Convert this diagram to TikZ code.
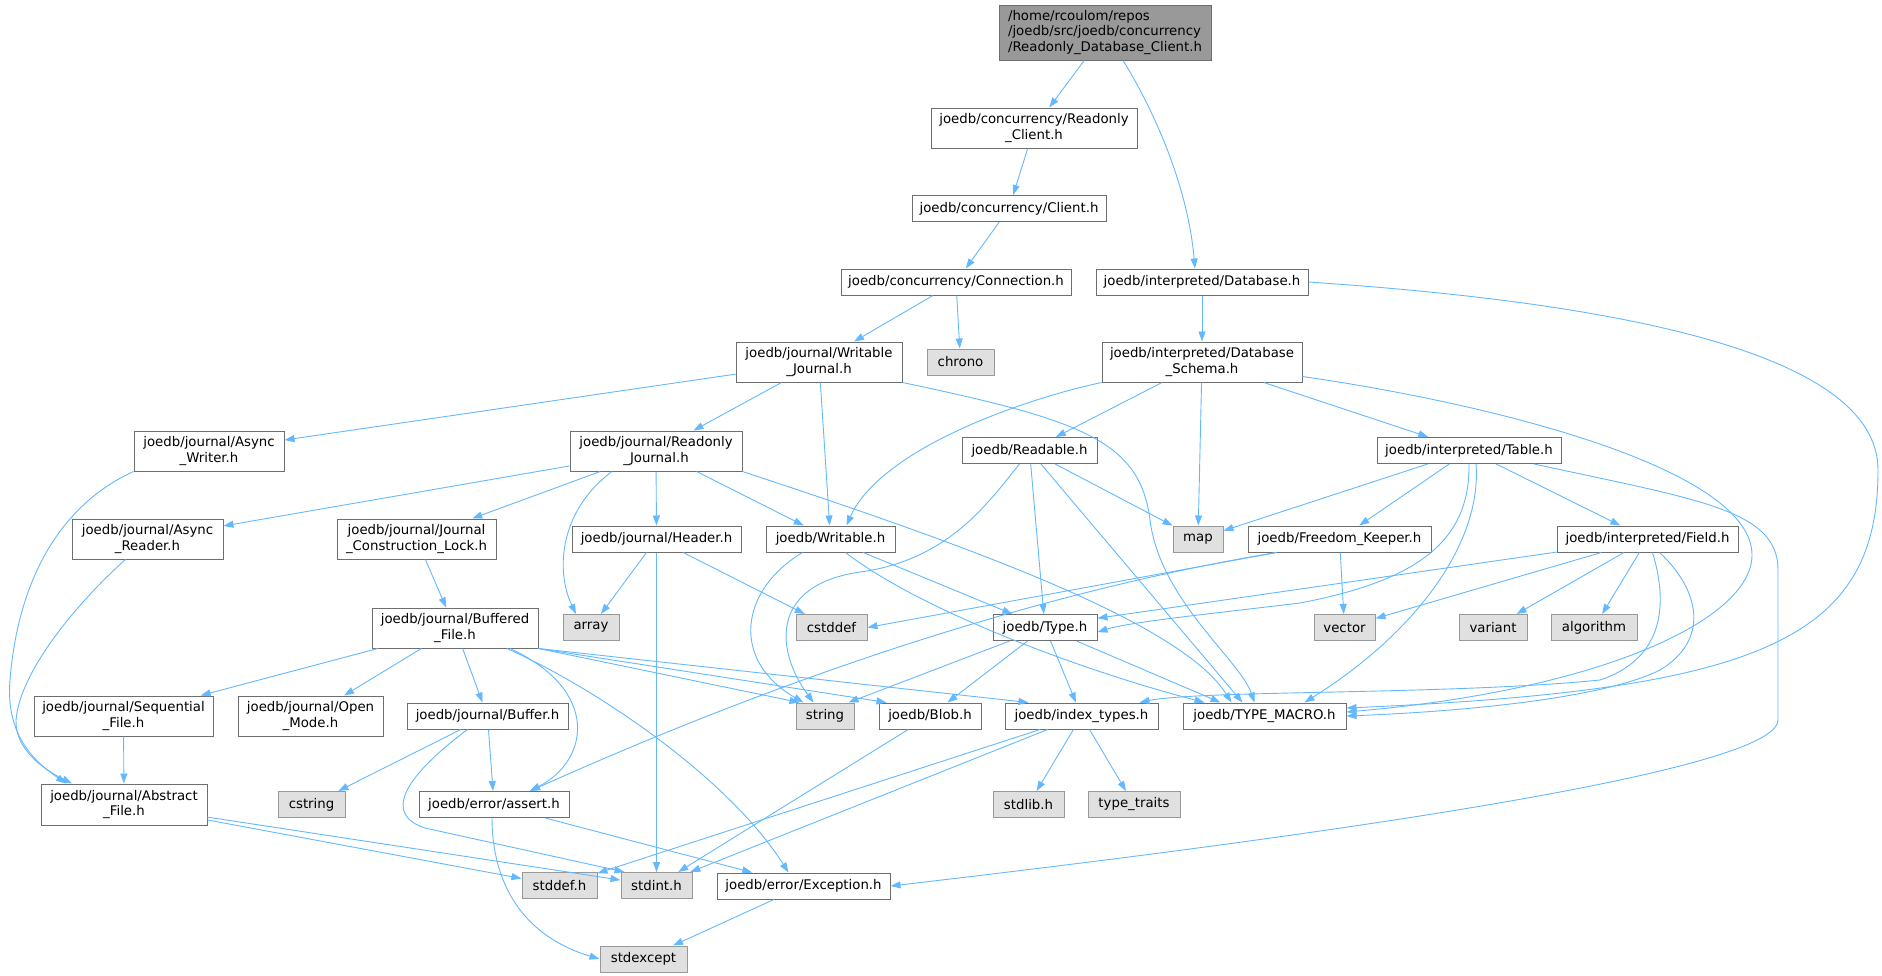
\documentclass[tikz,border=0pt]{standalone}
\usepackage{fontspec}
\setmainfont{DejaVu Sans}
\usetikzlibrary{arrows.meta}
\definecolor{incblue}{HTML}{63B8FF}
\definecolor{boxgrey}{HTML}{6E6E6E}
\definecolor{sysgrey}{HTML}{999999}
\definecolor{sysfill}{HTML}{E0E0E0}
\begin{document}
\begin{tikzpicture}[x=1pt,y=-1pt,
 file/.style={draw=boxgrey,fill=white,line width=1pt,inner sep=0pt,align=center,
   minimum height=26pt,font=\fontsize{13.3}{15.6}\selectfont},
 sys/.style={file,draw=sysgrey,fill=sysfill},
 top/.style={file,fill=sysgrey,align=left},
 inc/.style={draw=incblue,line width=0.9pt,-{Triangle[length=10pt,width=7pt]}}]
\useasboundingbox (0,0) rectangle (1882,975);
\node[top,minimum width=212pt,minimum height=55pt] (root) at (1105,32.5) {/home/rcoulom/repos\\/joedb/src/joedb/concurrency\\/Readonly\_Database\_Client.h};
\node[file,minimum width=206pt,minimum height=40pt] (roc) at (1034,128) {joedb/concurrency/Readonly\\\_Client.h};
\node[file,minimum width=194pt] (client) at (1009,208.5) {joedb/concurrency/Client.h};
\node[file,minimum width=230pt] (conn) at (956,282) {joedb/concurrency/Connection.h};
\node[file,minimum width=212pt] (idb) at (1202,282) {joedb/interpreted/Database.h};
\node[sys,minimum width=67pt] (chrono) at (960.5,362) {chrono};
\node[file,minimum width=166pt,minimum height=40pt] (wj) at (819,362) {joedb/journal/Writable\\\_Journal.h};
\node[file,minimum width=200pt,minimum height=40pt] (schema) at (1202,362) {joedb/interpreted/Database\\\_Schema.h};
\node[file,minimum width=150pt,minimum height=40pt] (aw) at (209,451) {joedb/journal/Async\\\_Writer.h};
\node[file,minimum width=172pt,minimum height=40pt] (rj) at (656,451) {joedb/journal/Readonly\\\_Journal.h};
\node[file,minimum width=135pt] (readable) at (1029.5,450.5) {joedb/Readable.h};
\node[file,minimum width=184pt] (table) at (1469,450.5) {joedb/interpreted/Table.h};
\node[file,minimum width=151pt,minimum height=40pt] (ar) at (147.5,539) {joedb/journal/Async\\\_Reader.h};
\node[file,minimum width=159pt,minimum height=40pt] (jcl) at (416.5,539) {joedb/journal/Journal\\\_Construction\_Lock.h};
\node[file,minimum width=169pt] (header) at (656.5,539) {joedb/journal/Header.h};
\node[file,minimum width=129pt] (writable) at (830.5,539) {joedb/Writable.h};
\node[sys,minimum width=50pt] (map) at (1198,539) {map};
\node[file,minimum width=183pt] (fk) at (1339.5,539) {joedb/Freedom\_Keeper.h};
\node[file,minimum width=181pt] (field) at (1647.5,539) {joedb/interpreted/Field.h};
\node[file,minimum width=166pt,minimum height=40pt] (bf) at (455,628) {joedb/journal/Buffered\\\_File.h};
\node[sys,minimum width=56pt] (array) at (591,627.5) {array};
\node[sys,minimum width=71pt] (cstddef) at (831.5,627.5) {cstddef};
\node[file,minimum width=104pt] (type) at (1045,627.5) {joedb/Type.h};
\node[sys,minimum width=61pt] (vector) at (1344.5,627.5) {vector};
\node[sys,minimum width=68pt] (variant) at (1493,627.5) {variant};
\node[sys,minimum width=86pt] (algorithm) at (1594,627.5) {algorithm};
\node[file,minimum width=179pt,minimum height=40pt] (sf) at (123.5,716) {joedb/journal/Sequential\\\_File.h};
\node[file,minimum width=145pt,minimum height=40pt] (om) at (310.5,716) {joedb/journal/Open\\\_Mode.h};
\node[file,minimum width=161pt] (buffer) at (487.5,716) {joedb/journal/Buffer.h};
\node[sys,minimum width=58pt] (string) at (825,716) {string};
\node[file,minimum width=102pt] (blob) at (930,716) {joedb/Blob.h};
\node[file,minimum width=153pt] (index) at (1081.5,716) {joedb/index\_types.h};
\node[file,minimum width=163pt] (tm) at (1264.5,716) {joedb/TYPE\_MACRO.h};
\node[file,minimum width=166pt,minimum height=41pt] (abstract) at (124,804.5) {joedb/journal/Abstract\\\_File.h};
\node[sys,minimum width=67pt] (cstring) at (311.5,804.5) {cstring};
\node[file,minimum width=150pt] (assert) at (494,804.5) {joedb/error/assert.h};
\node[sys,minimum width=71pt] (stdlib) at (1028.5,804.5) {stdlib.h};
\node[sys,minimum width=92pt] (traits) at (1134,804.5) {type\_traits};
\node[sys,minimum width=75pt] (stddef) at (559.5,885.5) {stddef.h};
\node[sys,minimum width=71pt] (stdint) at (656.5,885.5) {stdint.h};
\node[file,minimum width=173pt] (exception) at (803.5,886) {joedb/error/Exception.h};
\node[sys,minimum width=87pt] (stdexcept) at (643.5,959) {stdexcept};
\draw[inc] (root) -- (roc);
\draw[inc] ([xshift=18pt]root.south) .. controls +(25,40) and +(-8,-90) .. ([xshift=-7pt]idb.north);
\draw[inc] (roc) -- (client);
\draw[inc] (client) -- (conn);
\draw[inc] (conn) -- (wj);
\draw[inc] (conn) -- (chrono);
\draw[inc] (idb) -- (schema);
\draw[inc] (idb.east) .. controls (1650,305) and (1878,360) .. (1878,470) .. controls (1878,640) and (1760,690) .. ([yshift=8pt]tm.east);
\draw[inc] (wj) -- (aw);
\draw[inc] (wj) -- (rj);
\draw[inc] (wj) -- (writable);
\draw[inc] (wj.south east) .. controls (1080,420) and (1140,440) .. (1150,520) .. controls (1160,600) and (1240,660) .. ([xshift=-10pt]tm.north);
\draw[inc] (schema.south west) .. controls (1020,400) and (880,450) .. ([xshift=16pt]writable.north);
\draw[inc] (schema) -- (readable);
\draw[inc] (schema) -- (map);
\draw[inc] (schema) -- (table);
\draw[inc] ([yshift=6pt]schema.south east) .. controls (1500,405) and (1752,470) .. (1752,555) .. controls (1752,620) and (1600,690) .. ([yshift=4pt]tm.east);
\draw[inc] (rj) -- (ar);
\draw[inc] (rj) -- (jcl);
\draw[inc] ([xshift=-44pt]rj.south) .. controls (560,510) and (555,570) .. ([xshift=-15pt]array.north);
\draw[inc] (rj) -- (header);
\draw[inc] (rj) -- (writable);
\draw[inc] (rj.south east) .. controls (950,540) and (1180,620) .. ([xshift=-33pt]tm.north);
\draw[inc] (aw.south west) .. controls (60,505) and (18,580) .. (10,680) .. controls (5,740) and (40,765) .. ([xshift=-58pt]abstract.north);
\draw[inc] ([xshift=-22pt]ar.south) .. controls (80,600) and (20,670) .. (16,720) .. controls (15,750) and (45,770) .. ([xshift=-52pt]abstract.north);
\draw[inc] (jcl) -- (bf);
\draw[inc] (header) -- (array);
\draw[inc] (header) -- (stdint);
\draw[inc] (header) -- (cstddef);
\draw[inc] ([xshift=-28pt]writable.south) .. controls (740,590) and (730,660) .. ([xshift=8pt]string.north west);
\draw[inc] (writable) -- (type);
\draw[inc] ([xshift=15pt]writable.south) .. controls (920,610) and (1080,670) .. ([xshift=-60pt]tm.north);
\draw[inc] ([xshift=-10pt]readable.south) .. controls (990,500) and (950,560) .. (860,572) .. controls (770,585) and (775,650) .. ([xshift=18pt]string.north west);
\draw[inc] (readable) -- (type);
\draw[inc] (readable) -- ([xshift=-22pt]tm.north);
\draw[inc] (readable) -- (map);
\draw[inc] (table) -- (map);
\draw[inc] (table) -- (fk);
\draw[inc] (table.south) .. controls (1470,540) and (1420,580) .. (1300,603) .. controls (1200,615) and (1130,622) .. (type.-5);
\draw[inc] ([xshift=7pt]table.south) .. controls (1482,540) and (1420,630) .. ([xshift=40pt]tm.north);
\draw[inc] (table) -- (field);
\draw[inc] ([xshift=65pt]table.south) .. controls (1700,500) and (1778,510) .. (1778,570) -- (1778,720) .. controls (1778,760) and (1500,815) .. (exception.east);
\draw[inc] ([xshift=-63pt]fk.south) -- (cstddef.east);
\draw[inc] ([xshift=-63pt]fk.south) .. controls (1050,590) and (800,670) .. ([xshift=36pt]assert.north);
\draw[inc] (fk) -- (vector);
\draw[inc] (field) -- (type.10);
\draw[inc] (field) -- (vector);
\draw[inc] (field) -- (variant);
\draw[inc] (field) -- (algorithm);
\draw[inc] ([xshift=5pt]field.south) .. controls (1670,610) and (1660,660) .. (1600,680) .. controls (1450,695) and (1200,690) .. ([xshift=58pt]index.north);
\draw[inc] ([xshift=12pt]field.south) .. controls (1700,590) and (1710,640) .. (1660,670) .. controls (1600,700) and (1450,712) .. (tm.east);
\draw[inc] (bf) -- (sf);
\draw[inc] (bf) -- (om);
\draw[inc] (bf) -- (buffer);
\draw[inc] ([xshift=55pt]bf.south) .. controls (600,690) and (590,760) .. ([xshift=36pt]assert.north);
\draw[inc] ([xshift=52pt]bf.south) .. controls (600,690) and (730,780) .. ([xshift=-15pt]exception.north);
\draw[inc] (bf.south east) -- ([xshift=4pt]string.north west);
\draw[inc] (bf.south east) -- ([xshift=8pt]blob.north west);
\draw[inc] (bf.south east) -- ([xshift=24pt]index.north west);
\draw[inc] (type) -- ([xshift=-6pt]string.north east);
\draw[inc] (type) -- (blob);
\draw[inc] (type) -- (index);
\draw[inc] (type) -- ([xshift=-44pt]tm.north);
\draw[inc] (blob) -- (stdint);
\draw[inc] (index) -- (stddef);
\draw[inc] (index) -- (stdint);
\draw[inc] (index) -- (stdlib);
\draw[inc] (index) -- (traits);
\draw[inc] (sf) -- (abstract);
\draw[inc] (buffer) -- (cstring);
\draw[inc] (buffer) -- (assert);
\draw[inc] ([xshift=-20pt]buffer.south) .. controls (400,780) and (385,815) .. (425,828) -- ([xshift=4pt]stdint.north west);
\draw[inc] (abstract) -- (stddef);
\draw[inc] (abstract) -- (stdint);
\draw[inc] ([xshift=-2pt]assert.south) .. controls (492,880) and (520,935) .. (stdexcept.west);
\draw[inc] (assert) -- (exception);
\draw[inc] (exception) -- (stdexcept);
\end{tikzpicture}
\end{document}
